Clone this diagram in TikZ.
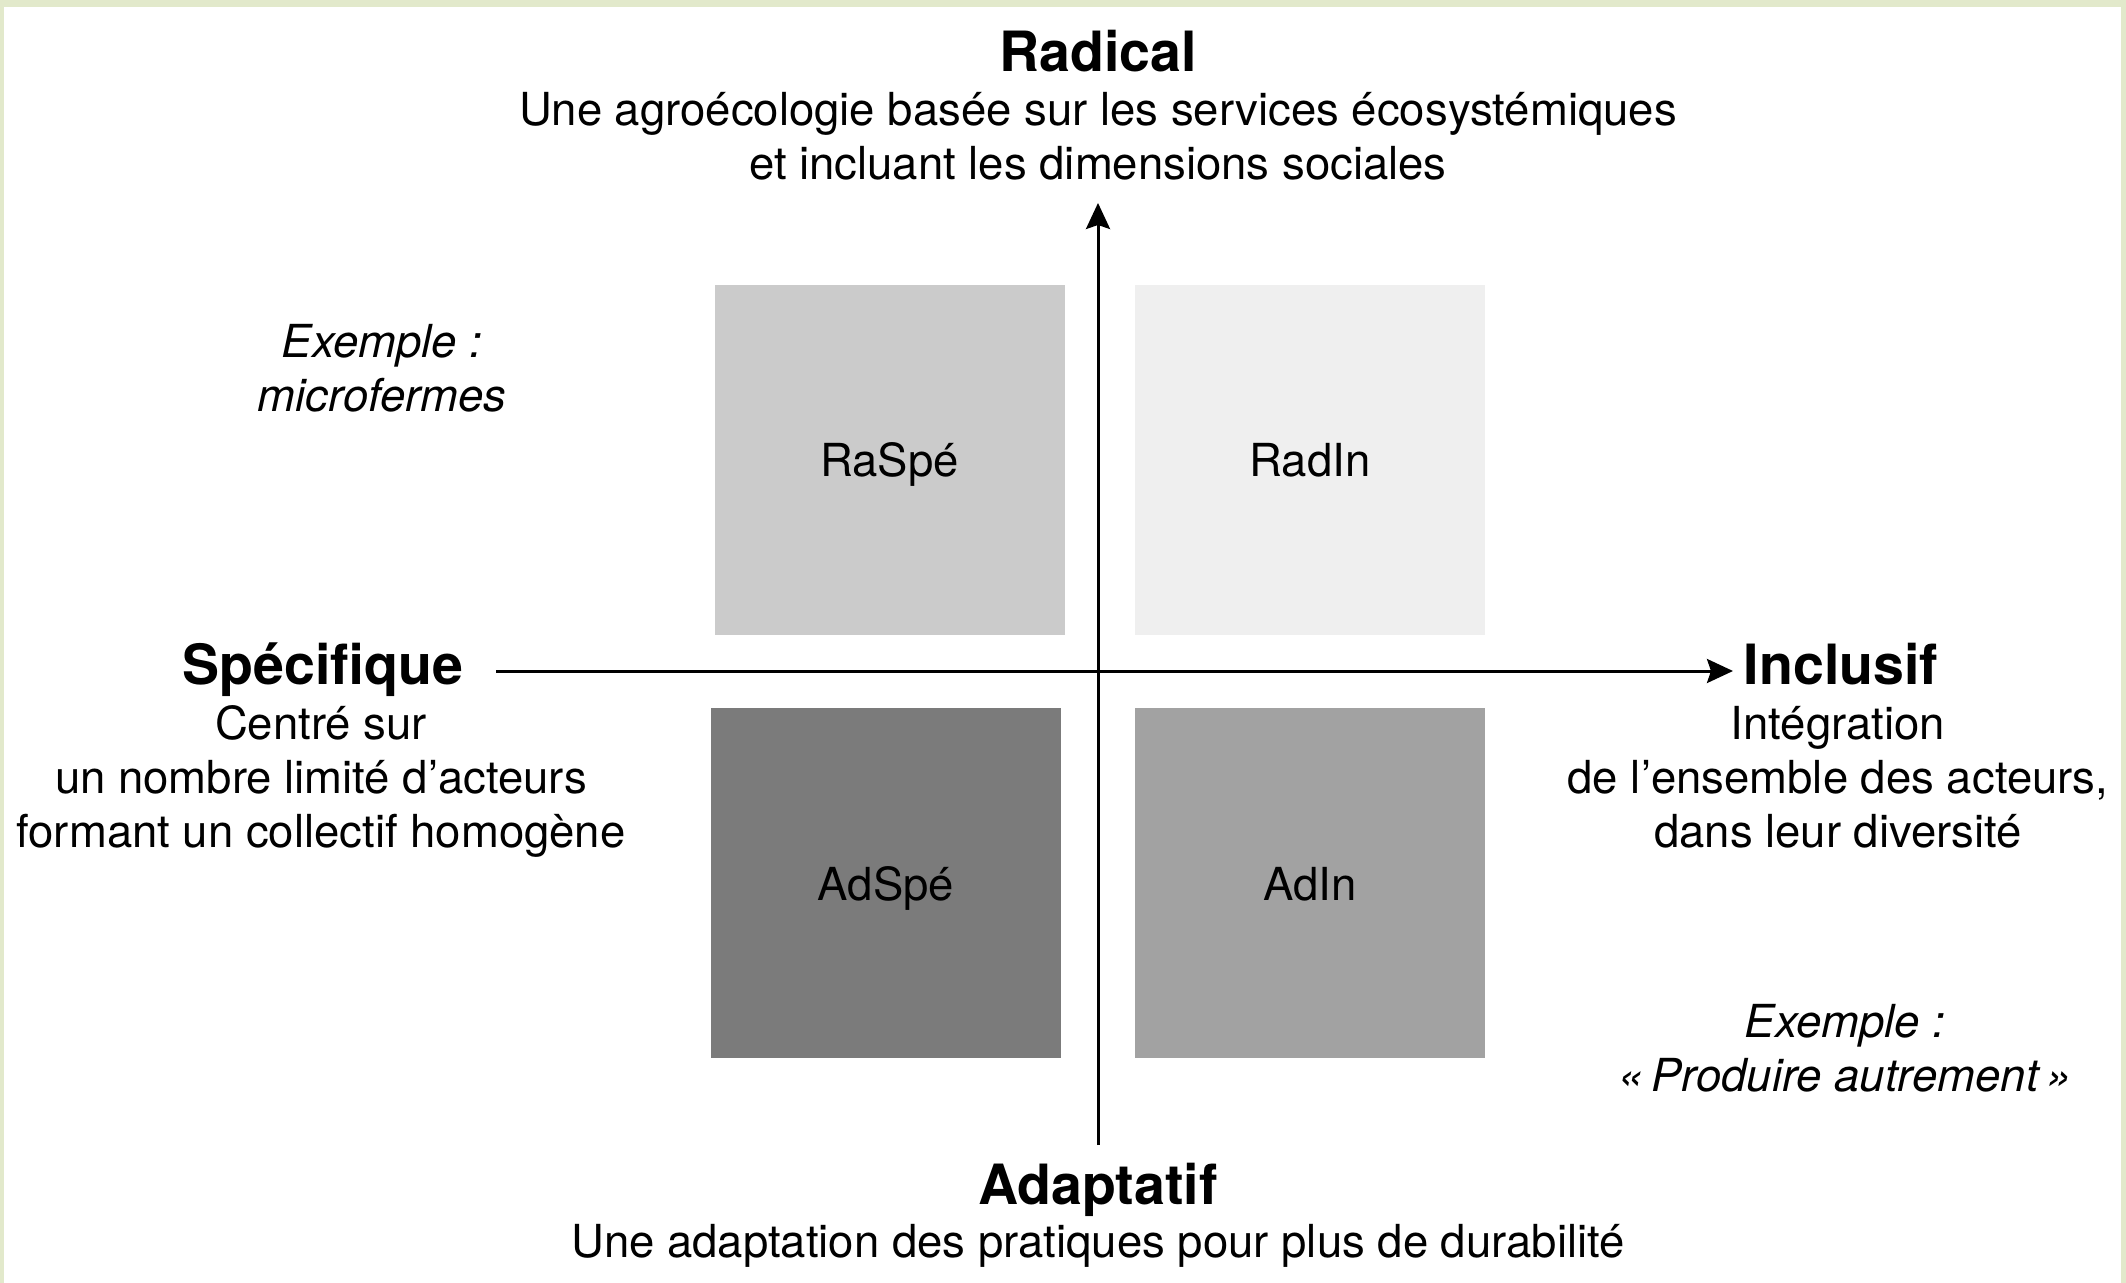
\documentclass[tikz,border=0pt]{standalone}
\usepackage{fontspec}
\setmainfont{TeX Gyre Heros}
\usetikzlibrary{arrows.meta}
\definecolor{framegreen}{HTML}{E2E9CB}
\definecolor{qRaSpe}{HTML}{CBCBCB}
\definecolor{qRadIn}{HTML}{EFEFEF}
\definecolor{qAdSpe}{HTML}{7B7B7B}
\definecolor{qAdIn}{HTML}{A2A2A2}
\tikzset{
  quad/.style={draw=none, minimum width=175pt, minimum height=175pt, inner sep=0pt,
    text height=17pt, text depth=0pt,
    font=\fontsize{22.75pt}{27pt}\selectfont},
  head/.style={anchor=base, inner sep=0pt, font=\fontsize{27.75pt}{27pt}\selectfont\bfseries},
  desc/.style={anchor=base, inner sep=0pt, align=center, font=\fontsize{22.75pt}{27pt}\selectfont},
  exmp/.style={anchor=base, inner sep=0pt, align=center, font=\fontsize{22.75pt}{27pt}\selectfont\itshape},
  axis/.style={line width=1.5pt, black, -{Stealth[length=13pt, width=12pt, inset=2pt]}}
}
\begin{document}
\begin{tikzpicture}[x=0.5pt, y=-0.5pt]
\useasboundingbox (0,0) rectangle (2126,1283);
\fill[white] (0,0) rectangle (2126,1283);
% frame strips
\fill[framegreen] (0,0) rectangle (2126,7);
\fill[framegreen] (0,0) rectangle (4,1283);
\fill[framegreen] (2121,0) rectangle (2126,1283);

% quadrants
\node[quad, fill=qRaSpe] (raspe) at (889.5,459.7) {RaSpé};
\node[quad, fill=qRadIn] (radin) at (1310,459.7) {RadIn};
\node[quad, fill=qAdSpe] (adspe) at (886,883.4) {AdSpé};
\node[quad, fill=qAdIn] (adin) at (1310,883.4) {AdIn};

% axes
\coordinate (vbot) at (1098,1145);
\coordinate (vtop) at (1098,203);
\coordinate (hleft) at (496,671);
\coordinate (hright) at (1733,671);
\draw[axis] (vbot) -- (vtop);
\draw[axis] (hleft) -- (hright);

% labels (multi-line nodes: base = baseline of last line)
\node[head] (radical) at (1098,72) {Radical};
\node[desc] (radicaldesc) at (1098,180) {Une agroécologie basée sur les services écosystémiques\\et incluant les dimensions sociales};

\node[head] (specifique) at (323,684) {Spécifique};
\node[desc] (specdesc) at (321,847) {Centré sur\\un nombre limité d’acteurs\\formant un collectif homogène};

\node[head] (inclusif) at (1841,684) {Inclusif};
\node[desc] (inclusdesc) at (1838,847) {Intégration\\de l’ensemble des acteurs,\\dans leur diversité};

\node[head] (adaptatif) at (1098,1204) {Adaptatif};
\node[desc] (adaptdesc) at (1098,1257) {Une adaptation des pratiques pour plus de durabilité};

\node[exmp] (ex1) at (382,412) {Exemple :\\microfermes};
\node[exmp] (ex2) at (1845,1091) {Exemple :\\«\,Produire autrement\,»};
\end{tikzpicture}
\end{document}
